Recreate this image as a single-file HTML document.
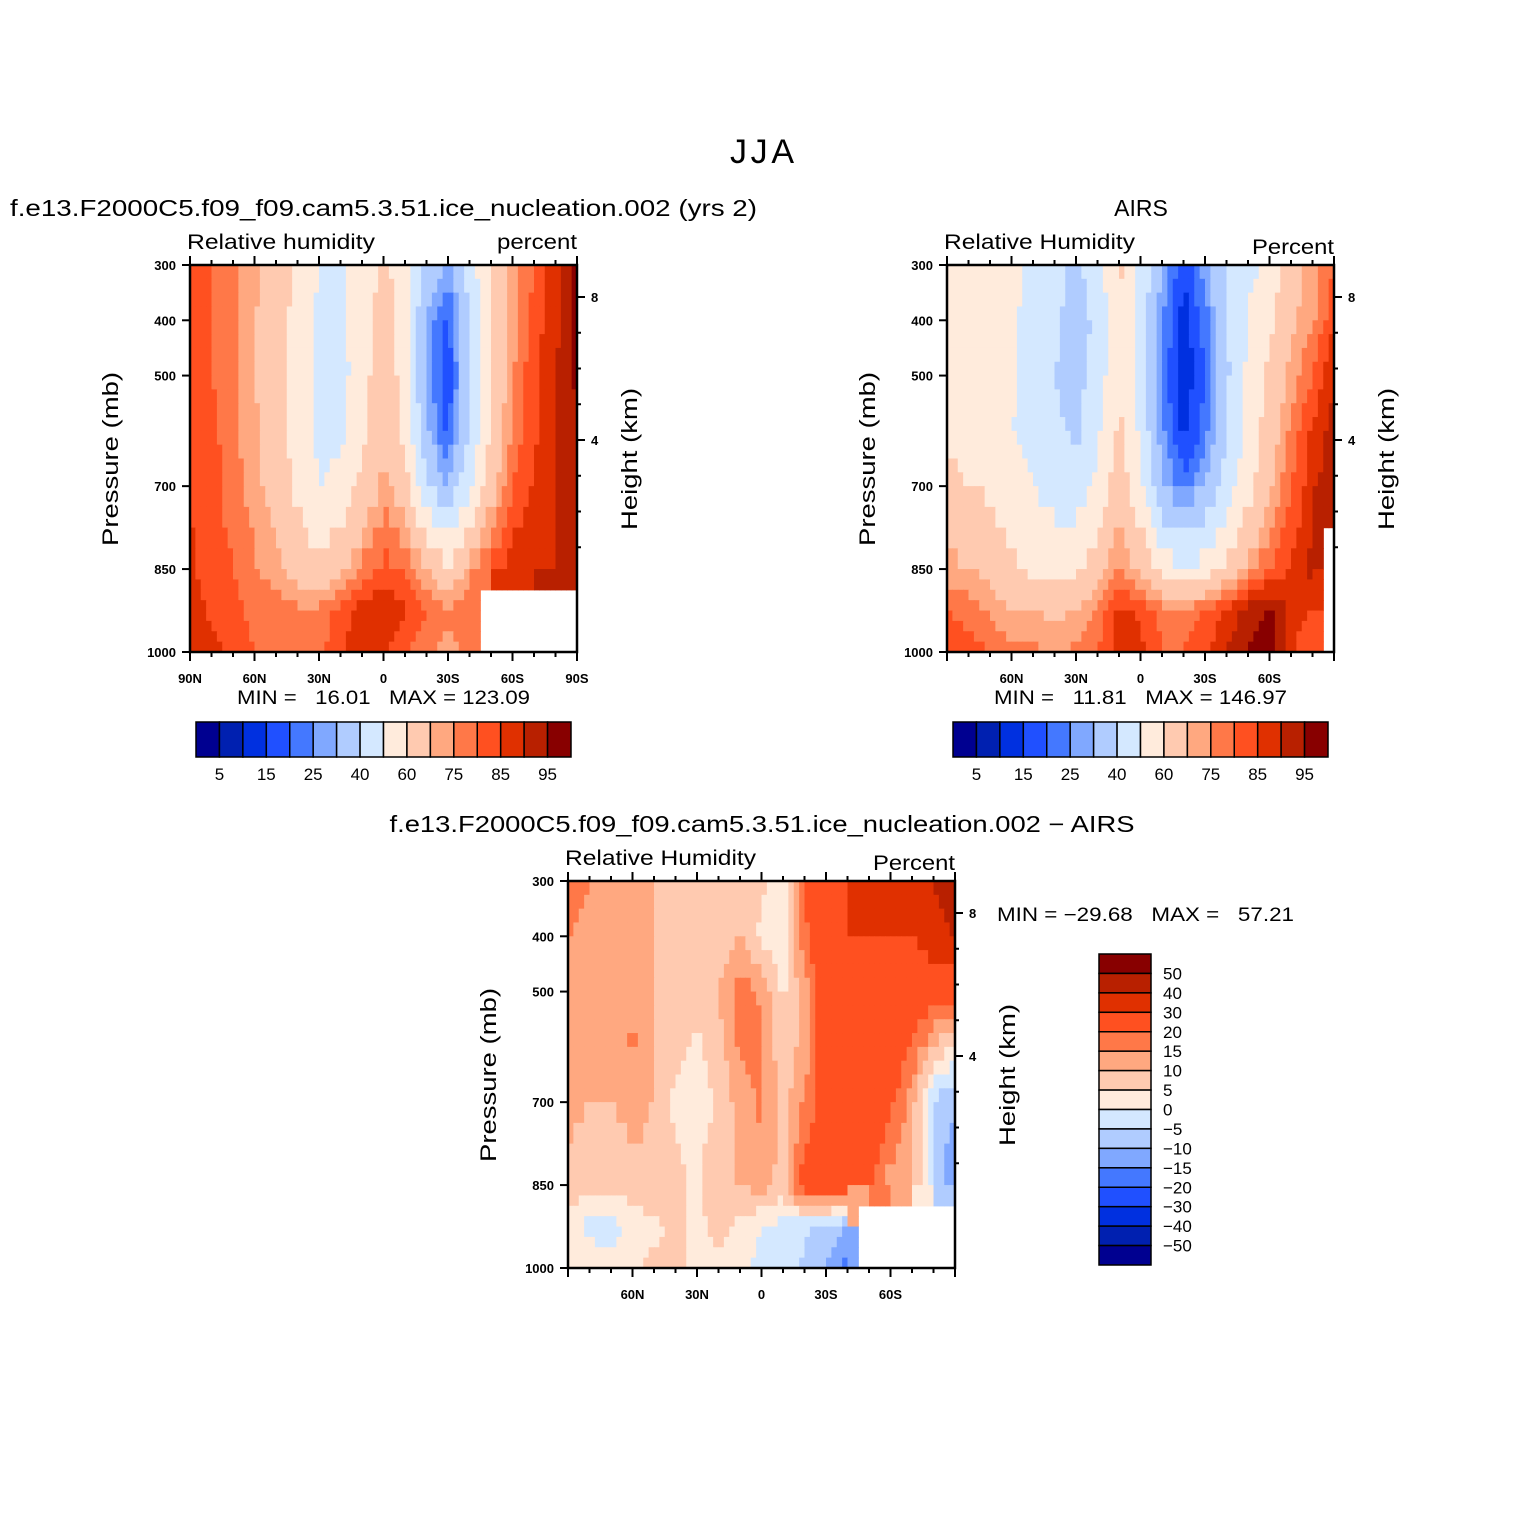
<!DOCTYPE html>
<html><head><meta charset="utf-8"><style>
html,body{margin:0;padding:0;background:#fff}
svg{display:block}
text{font-family:"Liberation Sans",sans-serif;fill:#000;white-space:pre}
</style></head><body>
<svg id="fig" width="1524" height="1524" viewBox="0 0 1524 1524" xmlns="http://www.w3.org/2000/svg">
<text x="762" y="163" font-size="34" text-anchor="middle" textLength="64">JJA</text>
</svg>
<script>
const lats = [90,80,70,60,50,40,30,20,10,0,-10,-20,-30,-40,-50,-60,-70,-80,-90];
const pressures = [300,400,500,600,700,850,925,1000];
const rhLevels = [5,10,15,20,25,30,40,50,60,70,75,80,85,90,95];
const rhLabels = ["5","15","25","40","60","75","85","95"];
const diffLevels = [-50,-40,-30,-20,-15,-10,-5,0,5,10,15,20,30,40,50];
const pTicks = [300,400,500,700,850,1000];
const latTicksAll = [90,60,30,0,-30,-60,-90];
const latTicksInner = [60,30,0,-30,-60];
const heightTicks = [[8,297],[4,440]];
const modelRH = [
 [82,80,76,72,66,58,50,48,55,62,56,38,28,45,62,72,80,88,96],
 [84,80,76,70,66,56,48,48,56,64,56,28,18,40,60,72,82,88,96],
 [84,80,76,70,64,56,48,46,56,66,56,28,16,38,60,74,84,90,96],
 [84,82,76,72,64,56,48,48,58,68,58,32,18,40,62,76,84,90,95],
 [85,82,78,72,66,58,50,52,62,72,64,40,30,48,66,80,86,90,94],
 [86,82,80,76,72,66,62,68,76,82,80,70,62,72,82,88,90,90,92],
 [88,84,82,78,78,76,76,82,88,90,86,80,76,80,null,null,null,null,null],
 [90,86,84,80,80,80,78,84,88,86,80,76,72,78,null,null,null,null,null]];
const airsRH = [
 [48,56,56,52,48,42,38,45,62,48,30,16,28,42,48,52,66,72,80],
 [58,60,58,52,46,42,36,42,60,46,26,12,22,40,50,58,68,74,84],
 [58,58,56,52,46,40,36,44,60,46,24,11,20,38,52,62,72,80,90],
 [58,58,56,50,46,42,38,48,62,48,26,13,22,40,54,64,76,86,92],
 [62,60,58,54,50,46,44,52,66,52,32,22,30,44,56,68,80,88,95],
 [72,70,68,62,58,56,58,66,76,68,56,50,54,62,72,80,86,92,null],
 [80,78,74,70,70,68,70,76,86,84,78,76,80,86,92,96,88,85,null],
 [84,82,80,76,76,74,76,80,88,86,80,80,84,90,96,98,86,80,null]];
const diffRH = [
 [20,15,12,12,10,10,6,6,8,6,3,20,30,30,30,30,34,40,50],
 [15,12,10,12,10,8,6,6,10,4,2,18,28,30,30,30,30,34,40],
 [15,12,10,14,10,8,8,10,18,14,4,12,26,28,28,28,26,24,22],
 [14,12,10,16,10,6,4,8,16,16,6,12,26,28,28,26,20,10,4],
 [12,10,10,12,10,4,2,6,12,16,8,16,24,26,26,22,12,-5,-10],
 [8,6,6,8,8,6,4,10,10,12,8,24,26,24,22,12,12,-5,-15],
 [4,-2,-2,2,4,6,4,6,4,0,-2,-4,-6,-10,null,null,null,null,null],
 [4,4,2,4,6,6,4,4,2,-2,-4,-6,-10,-18,null,null,null,null,null]];
const palette = ["#000090","#0020B0","#0030E0","#2050FF","#4478FF","#80A8FF","#B0CCFF","#D4E8FF","#FFEBDC","#FFCAB0","#FFA880","#FF7848","#FF5020","#E03000","#B82000","#880000"];

const NS="http://www.w3.org/2000/svg";
const svg=document.getElementById('fig');
function mk(tag,attrs,parent){const e=document.createElementNS(NS,tag);for(const k in attrs)e.setAttribute(k,attrs[k]);(parent||svg).appendChild(e);return e;}
function txt(s,x,y,size,anchor,parent,extra){const e=mk('text',Object.assign({x:x,y:y,'font-size':size,'text-anchor':anchor||'middle'},extra||{}),parent);e.textContent=s;return e;}
function colorFor(v,levels){let i=0;while(i<levels.length&&v>=levels[i])i++;return palette[i];}
const W=387,H=387;
function drawPanel(data,ox,oy,levels,o){
  const g=mk('g',{});
  
  
  const xS=lat=>ox+(90-lat)/180*W;
  const yS=p=>oy+(p-300)/700*H;
  const S=4;
  const nx=(lats.length-1)*S, ny=(pressures.length-1)*S;
  const latAt=t=>{const j=Math.min(Math.floor(t),lats.length-2);const f=t-j;return lats[j]+(lats[j+1]-lats[j])*f;};
  const pAt=t=>{const j=Math.min(Math.floor(t),pressures.length-2);const f=t-j;return pressures[j]+(pressures[j+1]-pressures[j])*f;};
  const val=(tr,tc)=>{const r=Math.min(Math.floor(tr),pressures.length-2),c=Math.min(Math.floor(tc),lats.length-2);const fr=tr-r,fc=tc-c;
    const a=data[r][c],b=data[r][c+1],cc=data[r+1][c],d=data[r+1][c+1];
    if(a==null||b==null||cc==null||d==null){
      const nr=Math.round(tr),ncn=Math.round(tc);const v=data[nr][ncn];if(v==null)return null;
      const vals=[a,b,cc,d].filter(x=>x!=null);return vals.reduce((s,x)=>s+x,0)/vals.length;}
    return a*(1-fr)*(1-fc)+b*(1-fr)*fc+cc*fr*(1-fc)+d*fr*fc;};
  const cg=mk('g',{},g);
  
  
  for(let i=0;i<ny;i++)for(let j=0;j<nx;j++){
    const v=val((i+0.5)/S,(j+0.5)/S);if(v==null)continue;
    const x0=xS(latAt(j/S)),x1=xS(latAt((j+1)/S)),y0=yS(pAt(i/S)),y1=yS(pAt((i+1)/S));
    const r=mk('rect',{x:x0.toFixed(2),y:y0.toFixed(2),width:(x1-x0+0.6).toFixed(2),height:(y1-y0+0.6).toFixed(2),fill:colorFor(v,levels)},cg);
    
    
  }
  mk('rect',{x:ox+W,y:oy,width:4,height:H+1,fill:'#fff'},g);
  const fr=mk('rect',{x:ox,y:oy,width:W,height:H,fill:'none',stroke:'#000','stroke-width':2.5},g);
  
  
  const ax=mk('g',{stroke:'#000','stroke-width':2},g);
  
  
  for(let lat=90;lat>=-90;lat-=10){const x=xS(lat);const L=(lat%30===0)?9:5;
    mk('line',{x1:x,y1:oy+H,x2:x,y2:oy+H+L},ax);mk('line',{x1:x,y1:oy,x2:x,y2:oy-L},ax);}
  for(const p of pTicks){const y=yS(p);mk('line',{x1:ox,y1:y,x2:ox-8,y2:y},ax);
    const t=txt(String(p),ox-14,y+5,13,'end',g,{'font-weight':'bold'});
    
    }
  for(const h of heightTicks){const y=oy+(h[1]-265);mk('line',{x1:ox+W,y1:y,x2:ox+W+8,y2:y},ax);
    const t=txt(String(h[0]),ox+W+14,y+5,13,'start',g,{'font-weight':'bold'});
    
    }
  for(let k=1;k<=7;k++){if(k===4)continue;const y=oy+(297-265)+(8-k)*35.75;if(y<oy+H)mk('line',{x1:ox+W,y1:y,x2:ox+W+4,y2:y},ax);}
  const lt=o.allTicks?latTicksAll:latTicksInner;
  for(const lat of lt){const s=lat===0?'0':(Math.abs(lat)+(lat>0?'N':'S'));
    const t=txt(s,xS(lat),oy+H+31,13,'middle',g,{'font-weight':'bold'});
    
    }
  let t;
  t=txt('Pressure (mb)',0,0,22,'middle',g,{transform:`translate(${ox-72},${oy+194}) rotate(-90)`,textLength:174,lengthAdjust:'spacingAndGlyphs'});
  
  
  t=txt('Height (km)',0,0,22,'middle',g,{transform:`translate(${ox+W+60},${oy+194}) rotate(-90)`,textLength:142,lengthAdjust:'spacingAndGlyphs'});
  
  
  t=txt(o.left,ox-3,oy-16,21,'start',g,{textLength:o.leftLen,lengthAdjust:'spacingAndGlyphs'});
  
  
  t=txt(o.right,ox+W,oy-o.rightDy,21,'end',g,{textLength:o.rightLen,lengthAdjust:'spacingAndGlyphs'});
  
  
  const ta={};if(o.titleLen){ta.textLength=o.titleLen;ta.lengthAdjust='spacingAndGlyphs';}
  t=txt(o.title,o.titleX,oy-49,23,o.titleAnchor||'middle',g,ta);
  
  
  return g;
}
function hBar(x0,y0,labels){
  const g=mk('g',{});
  
  
  const w=375/16;
  for(let i=0;i<16;i++){const r=mk('rect',{x:x0+i*w,y:y0,width:w,height:35,fill:palette[i],stroke:'#000','stroke-width':1.5},g);
    
    }
  labels.forEach((s,k)=>{const t=txt(s,x0+(2*k+1)*w,y0+58,17,'middle',g);
    
    });
}
drawPanel(modelRH,190,265,rhLevels,{name:'model-panel',allTicks:true,left:'Relative humidity',leftLen:188,right:'percent',rightLen:80,rightDy:16,title:'f.e13.F2000C5.f09_f09.cam5.3.51.ice_nucleation.002 (yrs 2)',titleLen:747,titleX:10,titleAnchor:'start'});
drawPanel(airsRH,947,265,rhLevels,{name:'airs-panel',allTicks:false,left:'Relative Humidity',leftLen:191,right:'Percent',rightLen:82,rightDy:11,title:'AIRS',titleX:1141});
drawPanel(diffRH,568,881,diffLevels,{name:'difference-panel',allTicks:false,left:'Relative Humidity',leftLen:191,right:'Percent',rightLen:82,rightDy:11,title:'f.e13.F2000C5.f09_f09.cam5.3.51.ice_nucleation.002 \u2212 AIRS',titleLen:745,titleX:762});
let t;
t=txt('MIN =   16.01   MAX = 123.09',237,704,19,'start',null,{textLength:293,lengthAdjust:'spacingAndGlyphs'});


t=txt('MIN =   11.81   MAX = 146.97',994,704,19,'start',null,{textLength:293,lengthAdjust:'spacingAndGlyphs'});


t=txt('MIN = \u221229.68   MAX =   57.21',997,921,19,'start',null,{textLength:297,lengthAdjust:'spacingAndGlyphs'});


hBar(196,722,rhLabels);
hBar(953,722,rhLabels);
const vb=mk('g',{});


const bh=311/16;
for(let i=0;i<16;i++){const r=mk('rect',{x:1099,y:954+i*bh,width:52,height:bh,fill:palette[15-i],stroke:'#000','stroke-width':1.5},vb);
  
  }
for(let k=0;k<15;k++){const lab=diffLevels[14-k];const s=lab<0?'\u2212'+Math.abs(lab):String(lab);
  const tt=txt(s,1163,954+(k+1)*bh+6,17,'start',vb);
  
  }
</script>
</body></html>
